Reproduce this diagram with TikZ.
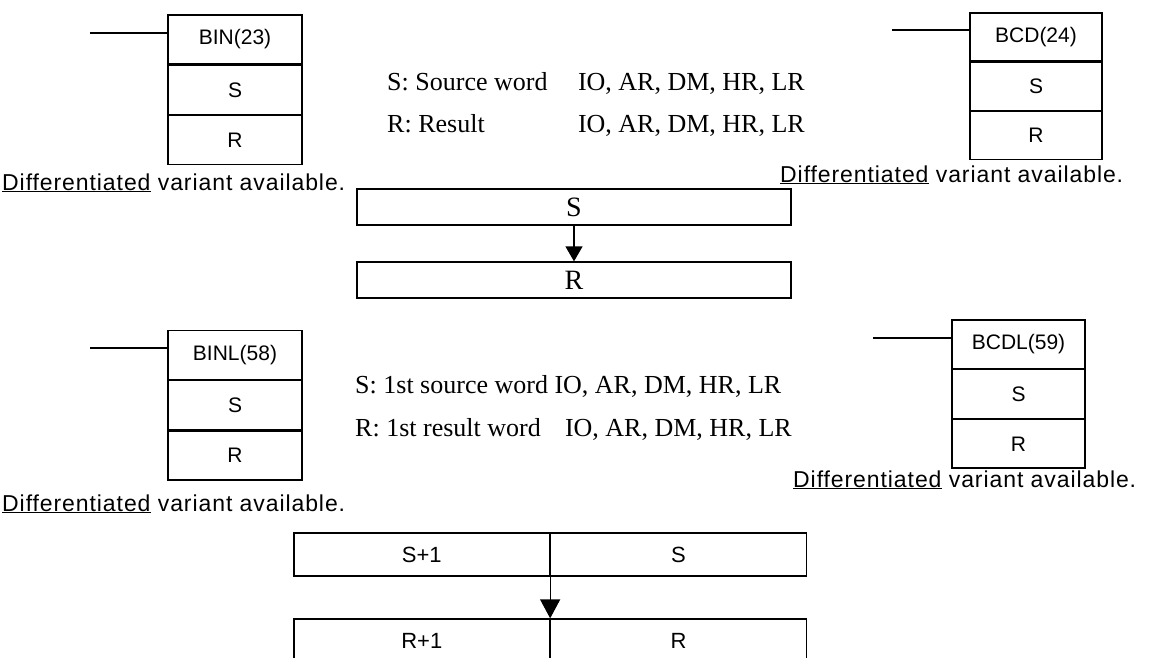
\documentclass[tikz,border=0pt]{standalone}
\usepackage{fontspec}
\setmainfont{Liberation Serif}
\setsansfont{Liberation Sans}
\newfontfamily\plcfont[LetterSpace=4]{Liberation Sans}
\usetikzlibrary{positioning,arrows.meta}

\begin{document}
\begin{tikzpicture}[x=1pt, y=-1pt,
  cell/.style={draw, line width=1.3pt, minimum width=134pt, minimum height=49pt, inner sep=0pt, font=\sffamily\fontsize{21}{24}\selectfont},
  wide/.style={draw, line width=1.3pt, minimum width=434pt, minimum height=36pt, inner sep=0pt, font=\fontsize{28}{30}\selectfont},
  half/.style={draw, line width=1.3pt, minimum width=255.5pt, minimum height=43pt, inner sep=0pt, font=\sffamily\fontsize{22}{24}\selectfont},
  note/.style={anchor=base west, inner sep=0pt, font=\plcfont\fontsize{23}{26}\selectfont},
  oper/.style={anchor=base west, inner sep=0pt, font=\fontsize{26}{30}\selectfont},
  lead/.style={line width=1.3pt},
  arr/.style={line width=1.3pt, -{Triangle[length=15pt, width=17pt]}}]
  \useasboundingbox (0,0) rectangle (1150,657);
  \clip (0,0) rectangle (1150,657);

  % BIN(23)
  \node[cell] (bin) at (235,39.5) {BIN(23)};
  \node[cell, below=0pt of bin] (binS) {S};
  \node[cell, below=0pt of binS] (binR) {R};
  \coordinate (binL) at (90,33);
  \draw[lead] (binL) -- (binL -| bin.west);
  \node[note] (binN) at (2,190) {\underline{Differentiated} variant available.};

  % BCD(24)
  \node[cell, minimum width=132pt, minimum height=48pt] (bcd) at (1036,37) {BCD(24)};
  \node[cell, minimum width=132pt, minimum height=48pt, below=0pt of bcd] (bcdS) {S};
  \node[cell, minimum width=132pt, minimum height=48pt, below=0pt of bcdS] (bcdR) {R};
  \coordinate (bcdL) at (892,30);
  \draw[lead] (bcdL) -- (bcdL -| bcd.west);
  \node[note] (bcdN) at (780,182) {\underline{Differentiated} variant available.};

  % operands, one word
  \node[oper] (opS) at (387,90) {S: Source word};
  \node[oper, anchor=base east] (opSa) at (805,90) {IO, AR, DM, HR, LR};
  \node[oper] (opR) at (387,132) {R: Result};
  \node[oper, anchor=base east] (opRa) at (805,132) {IO, AR, DM, HR, LR};

  % one word conversion
  \node[wide] (wS) at (574,207) {S};
  \node[wide] (wR) at (574,280) {R};
  \draw[arr] (wS) -- (wR);

  % BINL(58)
  \node[cell] (binl) at (235,355) {BINL(58)};
  \node[cell, below=0pt of binl] (binlS) {S};
  \node[cell, below=0pt of binlS] (binlR) {R};
  \coordinate (binlL) at (90,348);
  \draw[lead] (binlL) -- (binlL -| binl.west);
  \node[note] (binlN) at (2,511) {\underline{Differentiated} variant available.};

  % BCDL(59)
  \node[cell, minimum width=133pt, minimum height=48.5pt] (bcdl) at (1018.5,344.25) {BCDL(59)};
  \node[cell, minimum width=133pt, minimum height=48.5pt, below=0pt of bcdl] (bcdlS) {S};
  \node[cell, minimum width=133pt, minimum height=48.5pt, below=0pt of bcdlS] (bcdlR) {R};
  \coordinate (bcdlL) at (873,338);
  \draw[lead] (bcdlL) -- (bcdlL -| bcdl.west);
  \node[note] (bcdlN) at (793,487) {\underline{Differentiated} variant available.};

  % operands, two words
  \node[oper] (opS2) at (355,393) {S: 1st source word IO, AR, DM, HR, LR};
  \node[oper] (opR2) at (355,436) {R: 1st result word};
  \node[oper, anchor=base east] (opR2a) at (792,436) {IO, AR, DM, HR, LR};

  % two word conversion
  \node[half] (s1) at (421.75,554.5) {S+1};
  \node[half, right=0pt of s1] (s0) {S};
  \node[half] (r1) at (421.75,640.5) {R+1};
  \node[half, right=0pt of r1] (r0) {R};
  \draw[arr, -{Triangle[length=19pt, width=20pt]}] (s1.south east) -- (r1.north east);
\end{tikzpicture}
\end{document}
